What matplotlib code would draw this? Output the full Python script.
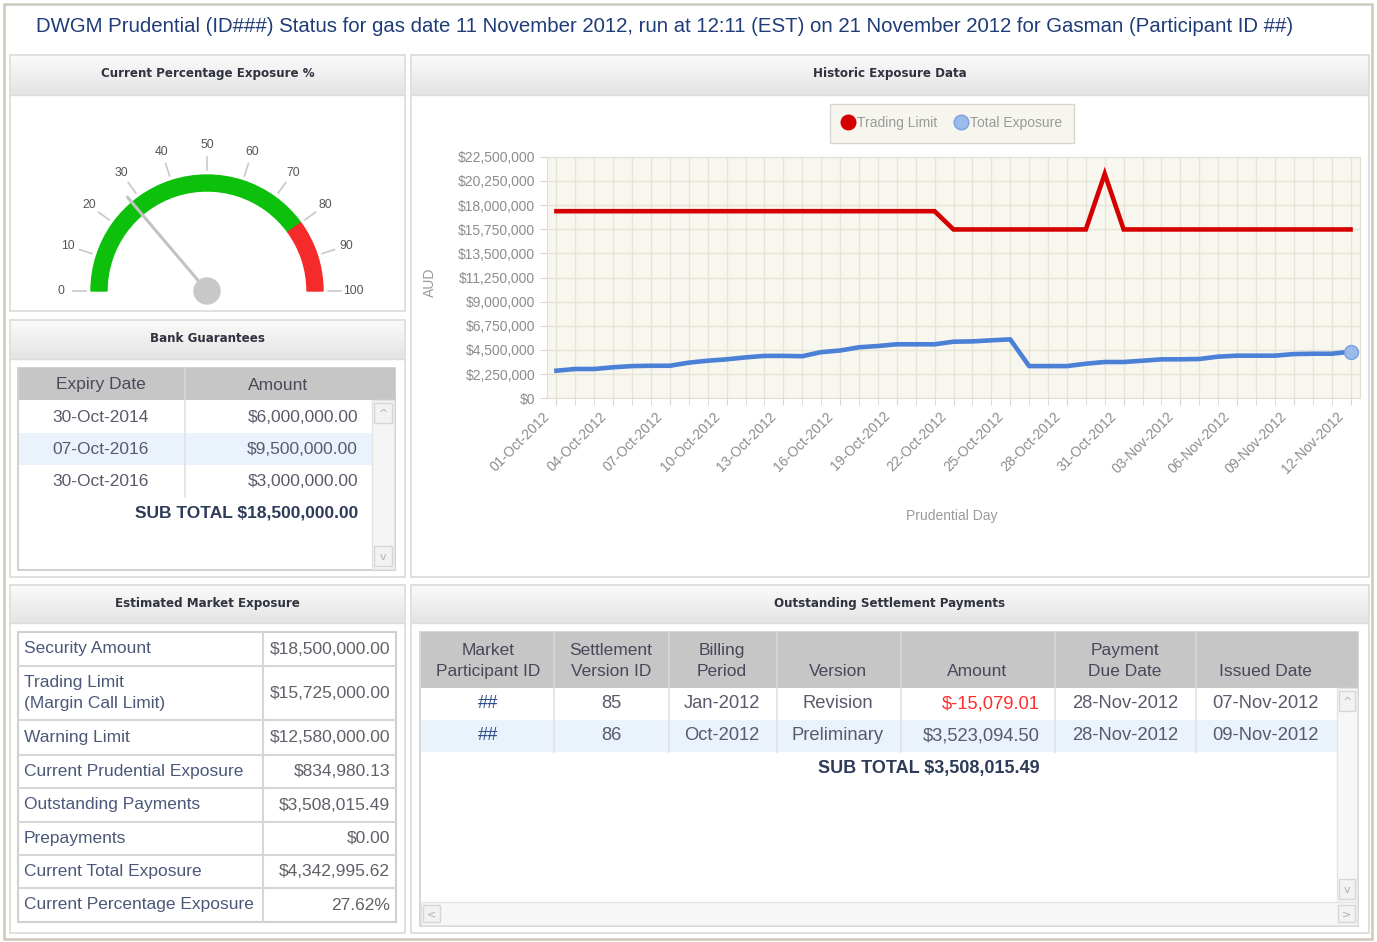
import numpy as np
import pandas as pd
import matplotlib.pyplot as plt
import matplotlib.transforms as mtransforms
from matplotlib.patches import Rectangle, Wedge, Circle
from matplotlib.lines import Line2D
from matplotlib.colors import LinearSegmentedColormap
from matplotlib.ticker import FuncFormatter

plt.rcParams['font.family'] = ['Liberation Sans', 'DejaVu Sans']

title = ('DWGM Prudential (ID###) Status for gas date 11 November 2012, run at 12:11 (EST) '
         'on 21 November 2012 for Gasman (Participant ID ##)')

# gauge
gauge_value = 27.62
gauge_ticks = [0, 10, 20, 30, 40, 50, 60, 70, 80, 90, 100]
gauge_green_to = 80

# historic exposure, 01-Oct-2012 .. 12-Nov-2012
dates = pd.date_range('2012-10-01', '2012-11-12', freq='D')
trading_limit = [17425000, 17425000, 17425000, 17425000, 17425000, 17425000, 17425000,
                 17425000, 17425000, 17425000, 17425000, 17425000, 17425000, 17425000,
                 17425000, 17425000, 17425000, 17425000, 17425000, 17425000, 17425000,
                 15725000, 15725000, 15725000, 15725000, 15725000, 15725000, 15725000,
                 15725000, 20900000, 15725000, 15725000, 15725000, 15725000, 15725000,
                 15725000, 15725000, 15725000, 15725000, 15725000, 15725000, 15725000,
                 15725000]
total_exposure = [2570000, 2730000, 2730000, 2890000, 3000000, 3030000, 3030000,
                  3320000, 3500000, 3630000, 3810000, 3950000, 3950000, 3920000,
                  4300000, 4450000, 4750000, 4870000, 5030000, 5030000, 5030000,
                  5270000, 5300000, 5400000, 5490000, 3000000, 3000000, 3000000,
                  3220000, 3380000, 3380000, 3500000, 3630000, 3630000, 3660000,
                  3880000, 3970000, 3970000, 3970000, 4120000, 4150000, 4150000,
                  4343000]
date_labels = ['01-Oct-2012', '04-Oct-2012', '07-Oct-2012', '10-Oct-2012', '13-Oct-2012',
               '16-Oct-2012', '19-Oct-2012', '22-Oct-2012', '25-Oct-2012', '28-Oct-2012',
               '31-Oct-2012', '03-Nov-2012', '06-Nov-2012', '09-Nov-2012', '12-Nov-2012']
y_ticks = [0, 2250000, 4500000, 6750000, 9000000, 11250000, 13500000, 15750000,
           18000000, 20250000, 22500000]

# bank guarantees
bg_dates = ['30-Oct-2014', '07-Oct-2016', '30-Oct-2016']
bg_amounts = ['$6,000,000.00', '$9,500,000.00', '$3,000,000.00']
bg_total = 'SUB TOTAL $18,500,000.00'

# estimated market exposure
eme_labels = ['Security Amount', 'Trading Limit\n(Margin Call Limit)', 'Warning Limit',
              'Current Prudential Exposure', 'Outstanding Payments', 'Prepayments',
              'Current Total Exposure', 'Current Percentage Exposure']
eme_values = ['$18,500,000.00', '$15,725,000.00', '$12,580,000.00', '$834,980.13',
              '$3,508,015.49', '$0.00', '$4,342,995.62', '27.62%']

# outstanding settlement payments
osp_headers = ['Market\nParticipant ID', 'Settlement\nVersion ID', 'Billing\nPeriod',
               'Version', 'Amount', 'Payment\nDue Date', 'Issued Date']
osp_rows = [['##', '85', 'Jan-2012', 'Revision', '$-15,079.01', '28-Nov-2012', '07-Nov-2012'],
            ['##', '86', 'Oct-2012', 'Preliminary', '$3,523,094.50', '28-Nov-2012', '09-Nov-2012']]
osp_total = 'SUB TOTAL $3,508,015.49'

W, H = 1377, 942
fig = plt.figure(figsize=(W / 100, H / 100), dpi=100)
bg = fig.add_axes([0, 0, 1, 1])
bg.set_xlim(0, W)
bg.set_ylim(0, H)
bg.axis('off')

TXT = '#5a5a6c'
LINE = '#d6d6d6'
head_cmap = LinearSegmentedColormap.from_list('head', ['#e4e4e4', '#fafafa'])


def box(x0, y0, x1, y1, fc='none', ec='none', lw=1.0, z=1):
    bg.add_patch(Rectangle((x0, H - y1), x1 - x0, y1 - y0, facecolor=fc,
                           edgecolor=ec, lw=lw, zorder=z))


def txt(x, y, s, **kw):
    kw.setdefault('va', 'center')
    kw.setdefault('color', TXT)
    bg.text(x, H - y, s, zorder=5, **kw)


def hl(x0, x1, y, c=LINE, lw=1.2):
    bg.plot([x0, x1], [H - y, H - y], color=c, lw=lw, zorder=3)


def vl(x, y0, y1, c=LINE, lw=1.2):
    bg.plot([x, x], [H - y0, H - y1], color=c, lw=lw, zorder=3)


def panel(x0, y0, x1, y1, yh, name):
    box(x0, y0, x1, y1, fc='white', ec='#dadada', lw=1.2)
    grad = np.linspace(0, 1, 50).reshape(-1, 1)
    bg.imshow(grad, extent=(x0 + 1, x1 - 1, H - yh, H - y0 - 1), cmap=head_cmap,
              aspect='auto', zorder=2, origin='lower')
    hl(x0, x1, yh, c='#dcdcdc', lw=1)
    txt((x0 + x1) / 2, (y0 + yh) / 2 - 1, name, ha='center', fontsize=8.6,
        family='DejaVu Sans', weight='bold', color='#30323f')


def scroll_btn(x0, y0, x1, y1, glyph):
    box(x0, y0, x1, y1, fc='#f2f2f2', ec='#d6d6d6', lw=1, z=4)
    txt((x0 + x1) / 2, (y0 + y1) / 2 + 1, glyph, ha='center', fontsize=8,
        color='#b0b0b0', family='DejaVu Sans')


# outer frame
box(4, 4, 1372, 939, ec='#cdc9ba', lw=1.8)
txt(36, 26, title, ha='left', fontsize=14.7, color='#1f3c78')

panel(10, 55, 405, 311, 95, 'Current Percentage Exposure %')
panel(411, 55, 1369, 577, 95, 'Historic Exposure Data')
panel(10, 320, 405, 577, 359, 'Bank Guarantees')
panel(10, 585, 405, 933, 623, 'Estimated Market Exposure')
panel(411, 585, 1369, 933, 623, 'Outstanding Settlement Payments')
bg.set_xlim(0, W)
bg.set_ylim(0, H)

# ---- gauge
cx, cy = 207, H - 291
r_out, r_in = 116, 100
a_split = 180 - 1.8 * gauge_green_to
bg.add_patch(Wedge((cx, cy), r_out, a_split, 180, width=r_out - r_in, color='#0cc00c', zorder=3))
bg.add_patch(Wedge((cx, cy), r_out, 0, a_split, width=r_out - r_in, color='#f52a2a', zorder=3))
for v in gauge_ticks:
    a = np.radians(180 - 1.8 * v)
    bg.plot([cx + 121 * np.cos(a), cx + 134 * np.cos(a)],
            [cy + 121 * np.sin(a), cy + 134 * np.sin(a)], color='#c8c8c8', lw=1.2, zorder=3)
    bg.text(cx + 146 * np.cos(a), cy + 146 * np.sin(a), str(v), ha='center', va='center',
            fontsize=8.8, color='#555555', zorder=5)
a = np.radians(180 - 1.8 * gauge_value)
bg.plot([cx, cx + 123 * np.cos(a)], [cy, cy + 123 * np.sin(a)], color='#c2c2c2',
        lw=2.2, zorder=4, solid_capstyle='round')
bg.add_patch(Circle((cx, cy), 13, color='#c8c8c8', zorder=4))

# ---- historic exposure chart
ax = fig.add_axes([547 / W, 1 - 398.3 / H, (1360 - 547) / W, (398.3 - 156.7) / H])
ax.set_facecolor('#f8f7ef')
ax.plot(dates, trading_limit, color='#d40000', lw=3.3, solid_joinstyle='miter', zorder=3)
ax.plot(dates, total_exposure, color='#4a80d6', lw=3.3, zorder=3)
ax.plot(dates[-1:], total_exposure[-1:], 'o', ms=10, mfc='#9bbbec', mec='#7aa0de', zorder=4)
ax.set_xlim(dates[0] - pd.Timedelta(hours=12), dates[-1] + pd.Timedelta(hours=12))
ax.set_ylim(y_ticks[0], y_ticks[-1])
ax.set_yticks(y_ticks)
ax.yaxis.set_major_formatter(FuncFormatter(lambda v, p: '${:,.0f}'.format(v)))
ax.set_xticks(dates, minor=True)
ax.set_xticks(dates[::3])
ax.set_xticklabels(date_labels, rotation=45, ha='right', rotation_mode='anchor')
ax.grid(True, which='both', color='#e6e4d6', lw=1)
ax.set_axisbelow(True)
ax.tick_params(axis='both', which='both', colors='#d8d6c8', labelcolor='#8c8c8c',
               labelsize=10, length=5)
ax.tick_params(axis='x', which='major', pad=2)
shift = mtransforms.ScaledTranslation(-14 / 100, -1 / 100, fig.dpi_scale_trans)
for tk in ax.xaxis.get_major_ticks():
    tk.label1.set_transform(tk.label1.get_transform() + shift)
for s in ax.spines.values():
    s.set_color('#e2dfd2')
leg_h = [Line2D([], [], ls='none', marker='o', ms=10.5, mfc='#d40000', mec='#d40000'),
         Line2D([], [], ls='none', marker='o', ms=10.5, mfc='#9bbbec', mec='#7aa0de')]
ax.legend(leg_h, ['Trading Limit', 'Total Exposure'], loc='center', ncol=2,
          bbox_to_anchor=((952 - 547) / 813, (398.3 - 123) / 241.6), fontsize=10,
          labelcolor='#9a9a9a', facecolor='#f7f6ee', edgecolor='#d8d6cc', fancybox=False,
          framealpha=1, handlelength=0.9, handletextpad=0.15, columnspacing=1.3,
          borderpad=0.9, borderaxespad=0)
txt(430, 282, 'AUD', ha='center', rotation=90, fontsize=10, color='#9a9a9a')
txt(952, 516, 'Prudential Day', ha='center', fontsize=10, color='#9a9a9a')

# ---- bank guarantees
box(18, 368, 395, 570, fc='white', ec='#c8c8c8', lw=1.2)
box(19, 368, 395, 400, fc='#c6c6c6')
vl(185, 368, 400, c='#d6d6d6')
txt(101, 385, 'Expiry Date', ha='center', fontsize=12.5, color='#4a4a58')
txt(278, 385, 'Amount', ha='center', fontsize=12.5, color='#4a4a58')
for i, (d, amt) in enumerate(zip(bg_dates, bg_amounts)):
    yc = 417 + 32 * i
    if i % 2 == 1:
        box(19, yc - 16, 372, yc + 16, fc='#eaf2fc', z=1.5)
    txt(101, yc, d, ha='center', fontsize=12.5)
    txt(358, yc, amt, ha='right', fontsize=12.5)
vl(185, 400, 497, c='#e2e2e2')
txt(358, 513, bg_total, ha='right', fontsize=12.5, weight='bold', color='#2d3a58')
box(372, 400, 394, 569, fc='#f5f5f5', ec='#e4e4e4', lw=1, z=3)
scroll_btn(374, 403, 392, 423, '^')
scroll_btn(374, 546, 392, 566, 'v')

# ---- estimated market exposure
rows_y = [632, 666, 720, 755, 788, 822, 855, 888, 922]
box(18, 632, 396, 922, fc='white', ec='#d0d0d0', lw=1.5)
for y in rows_y[1:-1]:
    hl(18, 396, y, lw=1.5)
vl(263, 632, 922, lw=1.5)
for i, (lab, val) in enumerate(zip(eme_labels, eme_values)):
    yc = (rows_y[i] + rows_y[i + 1]) / 2
    txt(24, yc, lab, ha='left', fontsize=12.5, color='#4c5878', linespacing=1.45)
    txt(390, yc, val, ha='right', fontsize=12.5, color='#606068')

# ---- outstanding settlement payments
box(420, 632, 1358, 926, fc='white', ec='#d0d0d0', lw=1.2)
box(421, 632, 1358, 688, fc='#c6c6c6')
col_x = [421, 554, 669, 777, 901, 1055, 1196, 1337]
head_cx = [488, 611, 722, 838, 977, 1125, 1265]
cell_x = [488, 611, 722, 838, 1040, 1125, 1265]
cell_ha = ['center', 'center', 'center', 'center', 'right', 'center', 'center']
for x in col_x[1:-1]:
    vl(x, 632, 688, c='#d8d8d8')
for hdr, x in zip(osp_headers, head_cx):
    y = 661 if '\n' in hdr else 672
    txt(x, y, hdr, ha='center', fontsize=12.5, color='#48485a', linespacing=1.5)
for i, row in enumerate(osp_rows):
    yc = 704 + 32 * i
    if i % 2 == 1:
        box(421, yc - 16, 1337, yc + 16, fc='#eaf2fc', z=1.5)
    for j, (val, x, ha) in enumerate(zip(row, cell_x, cell_ha)):
        c = TXT
        if j == 0:
            c = '#2f4d86'
        if j == 4 and val.startswith('$-'):
            c = '#ff2e2e'
        txt(x, yc, val, ha=ha, fontsize=13.2, color=c)
for x in col_x[1:-1]:
    vl(x, 688, 752, c='#e2e2e2')
txt(1040, 768, osp_total, ha='right', fontsize=13, weight='bold', color='#2d3a58')
box(1337, 688, 1357, 902, fc='#f7f7f7', ec='#e4e4e4', lw=1, z=3)
scroll_btn(1339, 691, 1355, 711, '^')
scroll_btn(1339, 879, 1355, 899, 'v')
box(421, 902, 1357, 925, fc='#f7f7f7', ec='#e4e4e4', lw=1, z=3)
scroll_btn(423, 905, 440, 922, '<')
scroll_btn(1338, 905, 1355, 922, '>')

fig.savefig('out.png', dpi=100)
